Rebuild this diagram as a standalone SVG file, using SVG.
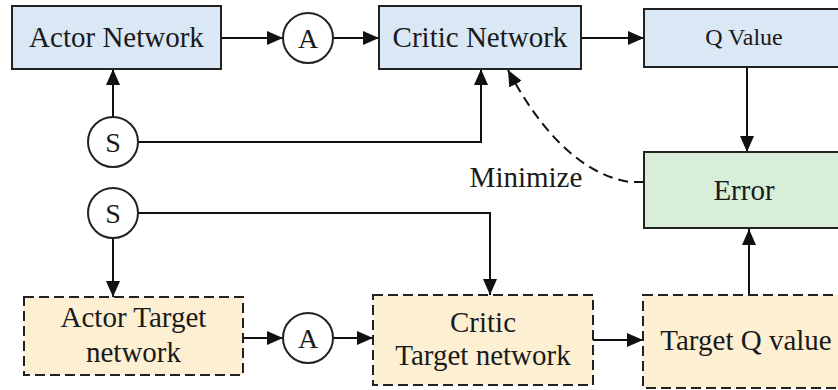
<svg xmlns="http://www.w3.org/2000/svg" width="838" height="390" viewBox="0 0 838 390">
<style>
.t{font-family:"Liberation Serif","Times New Roman",serif;fill:#1a1a1a;text-anchor:middle}
.box{stroke:#222;stroke-width:2}
.blue{fill:#dae7f4}
.green{fill:#d9eed8}
.yel{fill:#fdefd2}
.dash{stroke-dasharray:10 5}
.c{fill:#fff;stroke:#222;stroke-width:2}
.ln{fill:none;stroke:#111;stroke-width:2}
</style>
<defs>
<marker id="ar" viewBox="0 0 16 14" refX="16" refY="7" markerWidth="16" markerHeight="14" markerUnits="userSpaceOnUse" orient="auto">
<path d="M0,0 L16,7 L0,14 z" fill="#111"/>
</marker>
</defs>
<rect width="838" height="390" fill="#fff"/>
<g id="connectors">
<path class="ln" d="M221,38 H283" marker-end="url(#ar)"/>
<path class="ln" d="M333,38 H379" marker-end="url(#ar)"/>
<path class="ln" d="M581,38 H644" marker-end="url(#ar)"/>
<path class="ln" d="M747,67 V152" marker-end="url(#ar)"/>
<path class="ln" d="M113,117 V69" marker-end="url(#ar)"/>
<path class="ln" d="M138,142 H481 V69" marker-end="url(#ar)"/>
<path class="ln" d="M644,182 H630 C588,176 545,140 508,70" stroke-dasharray="10 6" marker-end="url(#ar)"/>
<path class="ln" d="M113,238 V297" marker-end="url(#ar)"/>
<path class="ln" d="M138,213 H490 V295" marker-end="url(#ar)"/>
<path class="ln" d="M243,338 H283" marker-end="url(#ar)"/>
<path class="ln" d="M333,338 H373" marker-end="url(#ar)"/>
<path class="ln" d="M593,340 H643" marker-end="url(#ar)"/>
<path class="ln" d="M749,295 V229" marker-end="url(#ar)"/>
</g>
<g id="actor-network">
<rect class="box blue" x="12" y="6" width="209" height="63"/>
<text class="t" x="116.5" y="47" font-size="29">Actor Network</text>
</g>
<g id="a1">
<circle class="c" cx="308" cy="38" r="25"/>
<text class="t" x="308" y="48" font-size="28">A</text>
</g>
<g id="critic-network">
<rect class="box blue" x="379" y="6" width="202" height="63"/>
<text class="t" x="480" y="47" font-size="29">Critic Network</text>
</g>
<g id="q-value">
<rect class="box blue" x="644" y="9" width="200" height="58"/>
<text class="t" x="744" y="45" font-size="24">Q Value</text>
</g>
<g id="s1">
<circle class="c" cx="113" cy="142" r="25"/>
<text class="t" x="113" y="152" font-size="28">S</text>
</g>
<g id="minimize">
<text class="t" x="526" y="187" font-size="29">Minimize</text>
</g>
<g id="error">
<rect class="box green" x="644" y="152" width="200" height="76"/>
<text class="t" x="744" y="200" font-size="29">Error</text>
</g>
<g id="s2">
<circle class="c" cx="113" cy="213" r="25"/>
<text class="t" x="113" y="223" font-size="28">S</text>
</g>
<g id="actor-target">
<rect class="box yel dash" x="24" y="297" width="219" height="78"/>
<text class="t" x="133.5" y="327" font-size="29">Actor Target</text>
<text class="t" x="133.5" y="362" font-size="29">network</text>
</g>
<g id="a2">
<circle class="c" cx="308" cy="338" r="25"/>
<text class="t" x="308" y="348" font-size="28">A</text>
</g>
<g id="critic-target">
<rect class="box yel dash" x="373" y="295" width="220" height="90"/>
<text class="t" x="483" y="332" font-size="29">Critic</text>
<text class="t" x="483" y="365" font-size="29">Target network</text>
</g>
<g id="target-q">
<rect class="box yel dash" x="643" y="295" width="200" height="93"/>
<text class="t" x="746" y="350" font-size="29">Target Q value</text>
</g>
</svg>
